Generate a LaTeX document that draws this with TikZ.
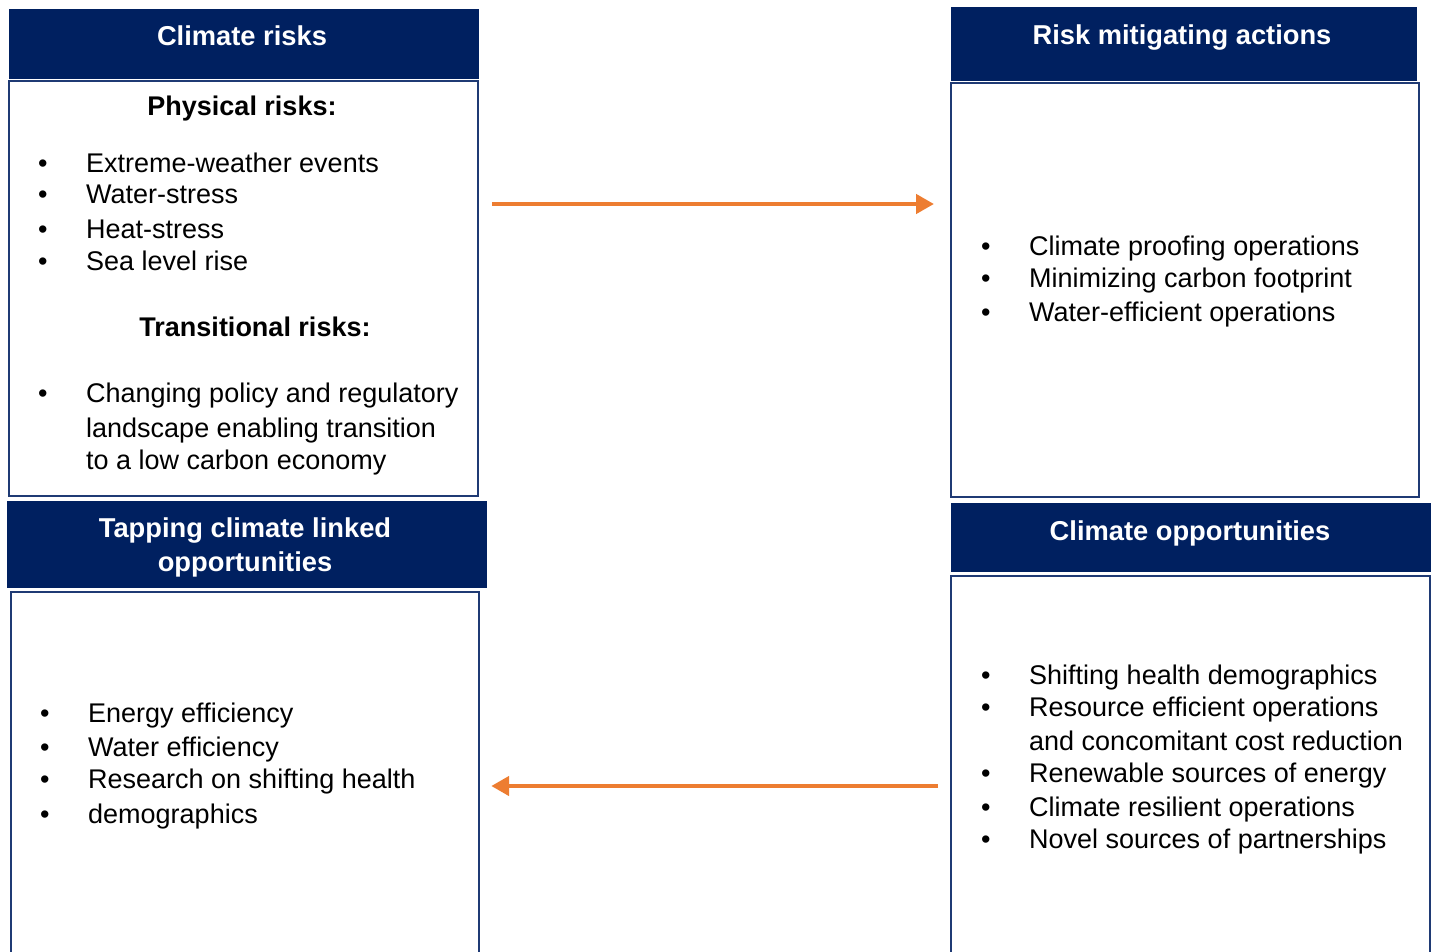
\documentclass[tikz,border=0pt]{standalone}
\usepackage{fontspec}
\setmainfont{Liberation Sans}
\usetikzlibrary{arrows.meta,calc}
\definecolor{navy}{HTML}{002060}
\definecolor{boxline}{HTML}{1F3A74}
\definecolor{floworange}{HTML}{ED7D31}
\tikzset{
  head/.style={fill=navy, anchor=north west, inner sep=0pt},
  body/.style={draw=boxline, line width=2.2pt, fill=white, anchor=north west, inner sep=0pt},
  title/.style={text=white, align=center, inner sep=0pt, font=\fontsize{27.3}{34}\selectfont\bfseries, text height=25pt, text depth=5pt},
  sub/.style={inner sep=0pt, font=\fontsize{27}{33}\selectfont\bfseries, text height=25pt, text depth=5pt},
  item/.style={anchor=west, inner sep=0pt, font=\fontsize{27}{33}\selectfont, text height=25pt, text depth=5pt},
  flow/.style={draw=floworange, line width=4.5pt, -{Triangle[length=18pt,width=19pt]}}
}
\begin{document}
\begin{tikzpicture}[x=1pt, y=-1pt]
 \useasboundingbox (0,0) rectangle (1431,952);
 \clip (0,0) rectangle (1431,952);
 % boxes
 \node[body, minimum width=469pt, minimum height=415pt] (crbody) at (8,80) {};
 \node[body, minimum width=468pt, minimum height=414pt] (rmbody) at (950,82) {};
 \node[body, minimum width=468pt, minimum height=390pt] (tcbody) at (10,591) {};
 \node[body, minimum width=479pt, minimum height=395pt] (cobody) at (950,575) {};
 \node[head, minimum width=470pt, minimum height=70pt] (crhead) at (9,9) {};
 \node[head, minimum width=466pt, minimum height=74pt] (rmhead) at (951,7) {};
 \node[head, minimum width=480pt, minimum height=87pt] (tchead) at (7,501) {};
 \node[head, minimum width=480pt, minimum height=69pt] (cohead) at (951,503) {};
 % titles
 \node[title] (crtitle) at (242,36) {Climate risks};
 \node[title] (rmtitle) at (1182,35) {Risk mitigating actions};
 \node[title] (tctitle) at (245,561) {Tapping climate linked\\opportunities};
 \node[title] (cotitle) at (1190,530) {Climate opportunities};
 \node[sub] (physical) at (242,106) {Physical risks:};
 \node[sub] (transitional) at (255,326) {Transitional risks:};
 % lists
 \foreach \y/\t [count=\i] in
  {
    162/Extreme-weather events, 194/Water-stress, 228/Heat-stress,
    260/Sea level rise, 392/Changing policy and regulatory
  }
  {
    \node[item] (crdot\i) at (38,\y) {•};
    \node[item] (critem\i) at (86,\y) {\t};
  }
 \node[item] (crline1) at (86,427) {landscape enabling transition};
 \node[item] (crline2) at (86,459) {to a low carbon economy};
 \foreach \y/\t [count=\i] in
  {
    245/Climate proofing operations, 277/Minimizing carbon footprint,
    311/Water-efficient operations
  }
  {
    \node[item] (rmdot\i) at (981,\y) {•};
    \node[item] (rmitem\i) at (1029,\y) {\t};
  }
 \foreach \y/\t [count=\i] in
  {
    712/Energy efficiency, 746/Water efficiency,
    778/Research on shifting health, 813/demographics
  }
  {
    \node[item] (tcdot\i) at (40,\y) {•};
    \node[item] (tcitem\i) at (88,\y) {\t};
  }
 \foreach \y/\t [count=\i] in
  {
    674/Shifting health demographics, 706/Resource efficient operations,
    772/Renewable sources of energy, 806/Climate resilient operations,
    838/Novel sources of partnerships
  }
  {
    \node[item] (codot\i) at (981,\y) {•};
    \node[item] (coitem\i) at (1029,\y) {\t};
  }
 \node[item] (coline) at (1029,740) {and concomitant cost reduction};
 % arrows
 \draw[flow] ($(crbody.east |- 0,204)+(13,0)$) -- ($(rmbody.west |- 0,204)+(-16,0)$);
 \draw[flow] ($(cobody.west |- 0,786)+(-12,0)$) -- ($(tcbody.east |- 0,786)+(11,0)$);
\end{tikzpicture}
\end{document}
